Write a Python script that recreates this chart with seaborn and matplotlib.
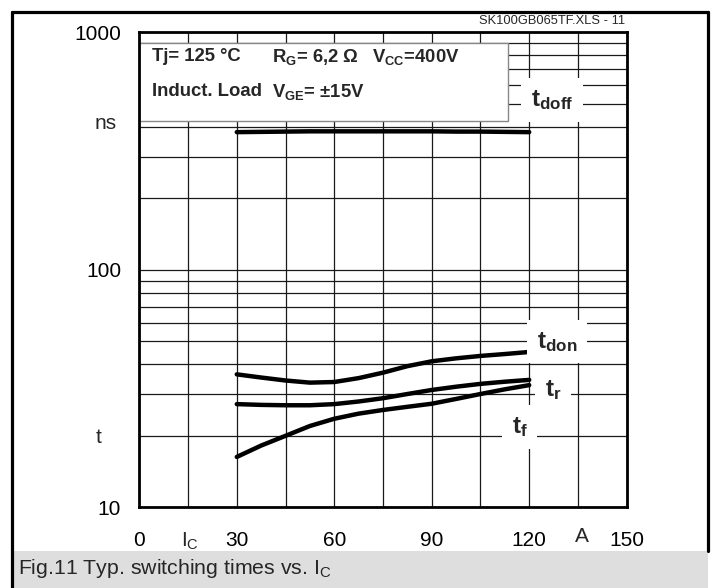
import numpy as np
import pandas as pd
import matplotlib
matplotlib.use("Agg")
import matplotlib.pyplot as plt
import seaborn as sns
from matplotlib.patches import Rectangle
from matplotlib.lines import Line2D
from matplotlib.ticker import FixedLocator, NullFormatter

# ---- data (Fig.11) ----
IC = [30, 37.5, 45, 52.5, 60, 67.5, 75, 82.5, 90, 97.5, 105, 112.5, 120]
T_DOFF = [380, 381, 382, 383, 383, 383, 383, 383, 383, 382, 382, 381, 380]
T_DON = [36.3, 35.2, 34.2, 33.5, 33.7, 35.0, 36.9, 39.3, 41.2, 42.4, 43.4, 44.2, 45.1]
T_R = [27.2, 27.0, 26.9, 26.9, 27.2, 27.9, 28.8, 30.0, 31.2, 32.2, 33.1, 33.8, 34.4]
T_F = [16.3, 18.2, 20.0, 22.0, 23.6, 24.8, 25.7, 26.5, 27.3, 28.6, 30.0, 31.4, 32.7]

CURVES = ["t_doff", "t_don", "t_r", "t_f"]
CURVE_LABELS = [r"$\mathbf{t_{doff}}$", r"$\mathbf{t_{don}}$", r"$\mathbf{t_r}$", r"$\mathbf{t_f}$"]
LABEL_X = [127.0, 128.5, 127.3, 117.1]
LABEL_Y = [519, 49.8, 31.2, 21.8]

X_TICKS = [0, 30, 60, 90, 120, 150]
X_GRID = [15, 45, 75, 105, 135]
Y_TICKS = [10, 100, 1000]

sns.set_theme(style="white")
plt.rcParams["font.family"] = ["Liberation Sans", "DejaVu Sans"]
plt.rcParams["mathtext.fontset"] = "custom"
plt.rcParams["mathtext.rm"] = "Liberation Sans"
plt.rcParams["mathtext.bf"] = "Liberation Sans:bold"
plt.rcParams["mathtext.it"] = "Liberation Sans:italic"

fig = plt.figure(figsize=(7.15, 5.88), dpi=100)
ax = fig.add_axes([0.1948, 0.1372, 0.6817, 0.8078])

df = pd.DataFrame({
    "Ic": IC * 4,
    "t": T_DOFF + T_DON + T_R + T_F,
    "curve": sum([[c] * len(IC) for c in CURVES], []),
})
sns.lineplot(data=df, x="Ic", y="t", hue="curve", palette=["black"] * 4,
             linewidth=3.2, legend=False, ax=ax, solid_capstyle="round",
             solid_joinstyle="round", zorder=2)

ax.set_yscale("log")
ax.set_xlim(0, 150)
ax.set_ylim(10, 1000)
ax.set_xlabel("")
ax.set_ylabel("")

ax.set_xticks(X_TICKS)
ax.set_xticklabels([str(v) for v in X_TICKS])
ax.xaxis.set_minor_locator(FixedLocator(X_GRID))
ax.set_yticks(Y_TICKS)
ax.set_yticklabels([str(v) for v in Y_TICKS])
ax.yaxis.set_minor_locator(FixedLocator([m * d for d in (10, 100) for m in range(2, 10)]))
ax.yaxis.set_minor_formatter(NullFormatter())

ax.grid(True, which="both", color="#1a1a1a", linewidth=0.9)
ax.set_axisbelow(True)
ax.tick_params(which="both", length=0, labelsize=15, colors="black")
ax.tick_params(axis="y", pad=13)
ax.tick_params(axis="x", pad=17)
for s in ax.spines.values():
    s.set_visible(True)
    s.set_color("black")
    s.set_linewidth(2)

# conditions box
ax.add_patch(Rectangle((0, 423), 113.4, 900 - 423, facecolor="white",
                       edgecolor="#888888", linewidth=1, zorder=1.5))
box_kw = dict(fontsize=13.3, fontweight="bold", va="center", ha="left", zorder=3)
ax.text(3.9, 789, "Tj= 125 °C", **box_kw)
ax.text(40.8, 789, r"R$\mathbf{_G}$= 6,2 Ω", **box_kw)
ax.text(71.6, 789, r"V$\mathbf{_{CC}}$=400V", **box_kw)
ax.text(3.9, 562, "Induct. Load", **box_kw)
ax.text(40.8, 562, r"V$\mathbf{_{GE}}$= ±15V", **box_kw)

# curve labels
for lab, lx, ly in zip(CURVE_LABELS, LABEL_X, LABEL_Y):
    ax.text(lx, ly, lab, fontsize=17.5, ha="center", va="center", zorder=3,
            bbox=dict(facecolor="white", edgecolor="none", boxstyle="square,pad=0.4"))

# axis unit labels
ytr = ax.get_yaxis_transform()
xtr = ax.get_xaxis_transform()
ax.text(-0.069, 415, "ns", transform=ytr, fontsize=15, ha="center", va="center")
ax.text(-0.083, 19.6, "t", transform=ytr, fontsize=15, ha="center", va="center")
ax.text(15.5, -0.071, r"I$_\mathrm{C}$", transform=xtr, fontsize=15, ha="center", va="center")
ax.text(136.3, -0.061, "A", transform=xtr, fontsize=15, ha="center", va="center")

# page frame and caption band
fig.add_artist(Rectangle((12 / 715, 0), (708 - 12) / 715, 37 / 588, transform=fig.transFigure,
                         facecolor="#dedede", edgecolor="none"))
frame_kw = dict(color="black", linewidth=2.3, transform=fig.transFigure)
fig.add_artist(Line2D([12 / 715, 12 / 715], [0, 1 - 12 / 588], **frame_kw))
fig.add_artist(Line2D([12 / 715, 708 / 715], [1 - 12 / 588, 1 - 12 / 588], **frame_kw))
fig.add_artist(Line2D([708 / 715, 708 / 715], [1 - 12 / 588, 37 / 588], **frame_kw))

fig.text(625 / 715, 1 - 21 / 588, "SK100GB065TF.XLS - 11", fontsize=9.3, ha="right", va="center")
fig.text(18 / 715, 1 - 569 / 588, r"Fig.11 Typ. switching times vs. I$_\mathrm{C}$",
         fontsize=15.3, ha="left", va="center")

fig.savefig("out.png", dpi=100)
